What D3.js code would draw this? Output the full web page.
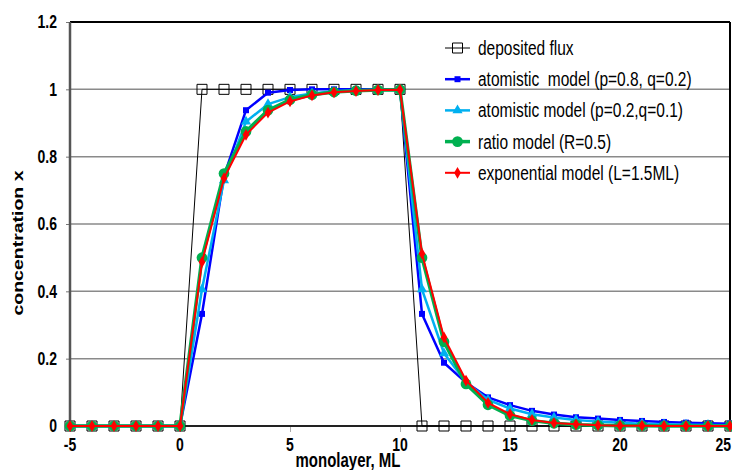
<!DOCTYPE html>
<html>
<head>
<meta charset="utf-8">
<script src="https://cdn.jsdelivr.net/npm/d3@7"></script>
<style>
body { margin: 0; background: #fff; }
text { font-family: "Liberation Sans", Arial, sans-serif; fill: #000; white-space: pre; }
</style>
</head>
<body>
<div id="chart"></div>
<script>
// monolayer positions (x axis)
const monolayers = [-5, -4, -3, -2, -1, 0, 1, 2, 3, 4, 5, 6, 7, 8, 9, 10,
    11, 12, 13, 14, 15, 16, 17, 18, 19, 20, 21, 22, 23, 24, 25];

// series values
const depositedFlux = [0, 0, 0, 0, 0, 0, 1, 1, 1, 1, 1, 1, 1, 1, 1, 1,
    0, 0, 0, 0, 0, 0, 0, 0, 0, 0, 0, 0, 0, 0, 0];
const atomisticA = [0, 0, 0, 0, 0, 0, 0.333, 0.742, 0.938, 0.99, 0.998, 1, 1, 1, 1, 1,
    0.333, 0.188, 0.129, 0.085, 0.062, 0.045, 0.034, 0.026, 0.022, 0.018, 0.015, 0.012, 0.010, 0.008, 0.007];
const atomisticB = [0, 0, 0, 0, 0, 0, 0.406, 0.73, 0.904, 0.956, 0.977, 0.988, 0.994, 0.997, 0.998, 0.999,
    0.406, 0.216, 0.13, 0.078, 0.052, 0.035, 0.025, 0.018, 0.013, 0.010, 0.007, 0.005, 0.004, 0.003, 0.002];
const ratioModel = [0, 0, 0, 0, 0, 0, 0.5, 0.75, 0.875, 0.938, 0.969, 0.984, 0.992, 0.996, 0.998, 0.999,
    0.5, 0.25, 0.125, 0.063, 0.031, 0.016, 0.008, 0.004, 0.002, 0.001, 0.0005, 0.0002, 0.0001, 0.0001, 0];
const expModel = [0, 0, 0, 0, 0, 0, 0.487, 0.736, 0.865, 0.931, 0.964, 0.982, 0.991, 0.995, 0.998, 0.999,
    0.512, 0.263, 0.135, 0.069, 0.035, 0.018, 0.009, 0.005, 0.002, 0.001, 0.001, 0, 0, 0, 0];

const seriesNames = ['deposited flux', 'atomistic  model (p=0.8, q=0.2)', 'atomistic model (p=0.2,q=0.1)',
    'ratio model (R=0.5)', 'exponential model (L=1.5ML)'];

const xTicks = [-5, 0, 5, 10, 15, 20, 25];
const yTicks = [0, 0.2, 0.4, 0.6, 0.8, 1, 1.2];

const svgWidth = 732, svgHeight = 470;
const margin = { top: 22, right: 1, bottom: 44, left: 70 };
const textStretch = 1.3;

const svg = d3.select('#chart').append('svg')
    .attr('width', svgWidth)
    .attr('height', svgHeight);

const xScale = d3.scaleLinear().domain([-5, 25]).range([margin.left, svgWidth - margin.right - 1]);
const yScale = d3.scaleLinear().domain([0, 1.2]).range([svgHeight - margin.bottom, margin.top]);

// text helper: the picture's lettering is a bit taller than wide
function label(parent, x, y, txt, anchor, weight, size) {
    return parent.append('text')
        .attr('transform', `translate(${x},${y}) scale(1,${textStretch})`)
        .attr('text-anchor', anchor)
        .attr('dy', '0.35em')
        .style('font-weight', weight)
        .style('font-size', size + 'px')
        .text(txt);
}

// gridlines
svg.append('g')
    .selectAll('line')
    .data(yTicks.filter(d => d > 0 && d < 1.2))
    .enter().append('line')
    .attr('x1', xScale(-5)).attr('x2', xScale(25))
    .attr('y1', d => yScale(d)).attr('y2', d => yScale(d))
    .attr('stroke', '#8a8a8a')
    .attr('stroke-width', 1.5);

// y axis
const yAxis = d3.axisLeft(yScale).tickValues(yTicks).tickSize(4).tickFormat('');
svg.append('g')
    .attr('transform', `translate(${xScale(-5)},0)`)
    .call(yAxis)
    .call(g => g.select('.domain').remove())
    .call(g => g.selectAll('.tick line').attr('stroke', '#777'));

// x axis
const xAxis = d3.axisBottom(xScale).tickValues(xTicks).tickSize(6).tickFormat('');
svg.append('g')
    .attr('transform', `translate(0,${yScale(0)})`)
    .call(xAxis)
    .call(g => g.select('.domain').remove())
    .call(g => g.selectAll('.tick line').attr('stroke', '#aaa'));

// frame
svg.append('line')
    .attr('x1', xScale(-5)).attr('x2', xScale(25))
    .attr('y1', yScale(1.2)).attr('y2', yScale(1.2))
    .attr('stroke', '#000').attr('stroke-width', 2);
svg.append('line')
    .attr('x1', xScale(25)).attr('x2', xScale(25))
    .attr('y1', yScale(1.2)).attr('y2', yScale(0))
    .attr('stroke', '#000').attr('stroke-width', 2);
svg.append('line')
    .attr('x1', xScale(-5)).attr('x2', xScale(25))
    .attr('y1', yScale(0)).attr('y2', yScale(0))
    .attr('stroke', '#222').attr('stroke-width', 2);
svg.append('line')
    .attr('x1', xScale(-5)).attr('x2', xScale(-5))
    .attr('y1', yScale(1.2)).attr('y2', yScale(0))
    .attr('stroke', '#555').attr('stroke-width', 2.5);

// tick labels (the last one is pulled in so it stays inside the picture)
yTicks.forEach(t => label(svg, xScale(-5) - 13, yScale(t), d3.format('~g')(t), 'end', 'bold', 14));
xTicks.forEach(t => {
    if (t === 25) label(svg, svgWidth - 1, 445, String(t), 'end', 'bold', 14);
    else label(svg, xScale(t), 445, String(t), 'middle', 'bold', 14);
});

// axis titles
label(svg, 348, 460, 'monolayer, ML', 'middle', 'bold', 15);
svg.append('text')
    .attr('transform', `translate(18,243) rotate(-90) scale(${textStretch},1)`)
    .attr('text-anchor', 'middle')
    .attr('dy', '0.35em')
    .style('font-weight', 'bold')
    .style('font-size', '15px')
    .text('concentration x');

// series styling
const seriesStyles = [
    { values: depositedFlux, color: '#000000', width: 1, symbol: d3.symbolSquare, size: 100, fill: 'none' },
    { values: atomisticA, color: '#0000ff', width: 2.5, symbol: d3.symbolSquare, size: 36, fill: '#0000ff' },
    { values: atomisticB, color: '#00b0f0', width: 2.5, symbol: d3.symbolTriangle, size: 45, fill: '#00b0f0' },
    { values: ratioModel, color: '#00b050', width: 3.5, symbol: d3.symbolCircle, size: 90, fill: '#00b050' },
    { values: expModel, color: '#ff0000', width: 2, symbol: d3.symbolDiamond, size: 40, fill: '#ff0000' }
];

const line = d3.line()
    .x((d, i) => xScale(monolayers[i]))
    .y(d => yScale(d));

seriesStyles.forEach(s => {
    const g = svg.append('g');
    g.append('path')
        .datum(s.values)
        .attr('d', line)
        .attr('fill', 'none')
        .attr('stroke', s.color)
        .attr('stroke-width', s.width)
        .attr('stroke-linejoin', 'round');
    g.selectAll('path.marker')
        .data(s.values)
        .enter().append('path')
        .attr('class', 'marker')
        .attr('transform', (d, i) => `translate(${xScale(monolayers[i])},${yScale(d)})`)
        .attr('d', d3.symbol().type(s.symbol).size(s.size))
        .attr('fill', s.fill)
        .attr('stroke', s.fill === 'none' ? s.color : 'none')
        .attr('stroke-width', 1);
});

// legend
const legend = svg.selectAll('.legend')
    .data(seriesStyles)
    .enter().append('g')
    .attr('class', 'legend')
    .attr('transform', (d, i) => `translate(445,${48 + i * 31.2})`);

legend.append('line')
    .attr('x1', 0).attr('x2', 25)
    .attr('stroke', d => d.color)
    .attr('stroke-width', d => d.width);

legend.append('path')
    .attr('transform', 'translate(12.5,0)')
    .attr('d', d => d3.symbol().type(d.symbol).size(d.size)())
    .attr('fill', d => d.fill)
    .attr('stroke', d => d.fill === 'none' ? d.color : 'none');

legend.each(function (d, i) {
    label(d3.select(this), 33, 0, seriesNames[i], 'start', 'normal', 15.5);
});
</script>
</body>
</html>
